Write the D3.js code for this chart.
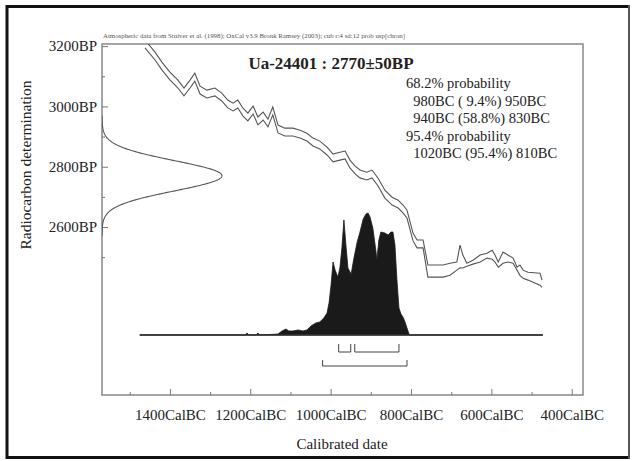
<!DOCTYPE html>
<html><head><meta charset="utf-8">
<script src="https://cdn.jsdelivr.net/npm/d3@7"></script>
<style>body{margin:0;background:#fff} svg text{font-family:"Liberation Serif","Times New Roman",serif;fill:#222}</style>
</head><body>
<svg id="c" width="632" height="461"></svg>
<script>
// ---- data ----
const curveYears = [1462,1437,1420,1400,1380,1365,1350,1338,1325,1308,1288,1271,1256,1243,1231,1218,1206,1193,1181,1168,1156,1144,1131,1114,1094,1076,1059,1044,1027,1009,994,977,964,952,939,927,910,897,882,865,847,832,820,810,795,785,770,758,720,703,686,678,671,661,646,628,611,598,591,583,571,559,546,536,529,521,509,479,474];
const curveUpper = [3220,3180,3147,3114,3087,3061,3087,3110,3067,3054,3061,3044,3021,3011,3021,2994,2978,3001,2965,2981,2958,2998,2938,2928,2928,2921,2911,2895,2885,2865,2842,2848,2852,2822,2802,2789,2782,2789,2762,2722,2699,2689,2673,2656,2580,2557,2557,2474,2474,2480,2484,2540,2507,2480,2490,2507,2513,2523,2507,2484,2517,2507,2497,2467,2474,2457,2450,2447,2424];
const curveLower = [3194,3154,3121,3088,3061,3035,3061,3084,3041,3028,3035,3018,2995,2985,2995,2968,2952,2975,2939,2955,2932,2972,2912,2902,2902,2895,2885,2869,2859,2839,2816,2822,2826,2796,2776,2763,2756,2763,2736,2696,2673,2663,2647,2630,2554,2531,2531,2434,2434,2440,2457,2465,2464,2470,2477,2484,2497,2493,2484,2467,2480,2484,2480,2457,2440,2430,2424,2407,2400];

const probYears  = [1475,1213,1208,1203,1186,1181,1176,1131,1121,1111,1104,1094,1081,1069,1059,1049,1037,1027,1017,1009,1004,999,994,989,982,977,972,967,962,957,949,942,934,927,919,912,907,902,895,887,885,880,875,865,857,850,845,840,835,830,825,820,815,810,805,803,472];
const probValues = [0,0,0.016,0,0,0.016,0,0.008,0.033,0.049,0.033,0.033,0.041,0.033,0.041,0.074,0.098,0.107,0.139,0.180,0.262,0.410,0.598,0.533,0.475,0.549,0.713,0.943,0.738,0.549,0.500,0.631,0.762,0.844,0.951,0.992,1.0,0.967,0.877,0.680,0.615,0.779,0.844,0.836,0.820,0.844,0.844,0.738,0.451,0.221,0.172,0.148,0.107,0.057,0.008,0,0];

const c14Mean = 2770, c14Sd = 50;
const range68 = [[980,950],[940,830]];
const range95 = [[1020,810]];

const xTickValues = [1400,1200,1000,800,600,400];
const xMinorValues = [1500,1300,1100,900,700,500];
const yTickValues = [3200,3000,2800,2600];
const yMinorValues = [3100,2900,2700,2500];

const title = "Ua-24401 : 2770\u00b150BP";
const header = "Atmospheric data from Stuiver et al. (1998); OxCal v3.9 Bronk Ramsey (2003); cub r:4 sd:12 prob usp[chron]";
const probText = ["68.2% probability","  980BC ( 9.4%) 950BC","  940BC (58.8%) 830BC","95.4% probability","  1020BC (95.4%) 810BC"];

// ---- drawing ----
const svg = d3.select("#c");
const L=102, R=583, T=44, B=395;
const x = d3.scaleLinear().domain([1569,372]).range([L,R]);
const y = d3.scaleLinear().domain([2043,3207]).range([B,T]);
const py = d3.scaleLinear().domain([0,1]).range([335,213]);
const gx = d3.scaleLinear().domain([0,1]).range([L,222]);

svg.append("rect").attr("x",0).attr("y",0).attr("width",632).attr("height",461).attr("fill","#fff");
// outer frame
svg.append("path").attr("d","M629,6.5H7V457.5H629")
  .attr("fill","none").attr("stroke","#111").attr("stroke-width",3);
svg.append("line").attr("x1",629).attr("x2",629).attr("y1",5).attr("y2",459)
  .attr("stroke","#555").attr("stroke-width",2);

svg.append("defs").append("clipPath").attr("id","clip")
  .append("rect").attr("x",L).attr("y",T).attr("width",R-L).attr("height",B-T);

// header
svg.append("text").attr("x",103).attr("y",38).attr("font-size",6).attr("textLength",302)
  .attr("lengthAdjust","spacingAndGlyphs").style("fill","#555").text(header);

// plot frame
svg.append("rect").attr("x",L).attr("y",T).attr("width",R-L).attr("height",B-T)
  .attr("fill","none").attr("stroke","#888").attr("stroke-width",1.5);

// axes
const axX = svg.append("g").attr("transform",`translate(0,${B})`)
  .call(d3.axisBottom(x).tickValues(xTickValues).tickSize(-6).tickPadding(14).tickFormat(d=>d+"CalBC"));
const axXm = svg.append("g").attr("transform",`translate(0,${B})`)
  .call(d3.axisBottom(x).tickValues(xMinorValues).tickSize(-3).tickFormat(""));
const axY = svg.append("g").attr("transform",`translate(${L},0)`)
  .call(d3.axisLeft(y).tickValues(yTickValues).tickSize(-6).tickPadding(5).tickFormat(d=>d+"BP"));
const axYm = svg.append("g").attr("transform",`translate(${L},0)`)
  .call(d3.axisLeft(y).tickValues(yMinorValues).tickSize(-3).tickFormat(""));
[axX,axXm,axY,axYm].forEach(g=>{
  g.select(".domain").remove();
  g.selectAll("line").attr("stroke","#777").attr("stroke-width",1);
  g.selectAll("text").attr("font-size",15).style("fill","#222")
   .attr("font-family","'Liberation Serif',serif");
});

// axis titles
svg.append("text").attr("x",342).attr("y",449).attr("text-anchor","middle").attr("font-size",15).text("Calibrated date");
svg.append("text").attr("transform","translate(31,165) rotate(-90)").attr("text-anchor","middle")
  .attr("font-size",15.5).text("Radiocarbon determination");

// calibration curve
const lineGen = d3.line().x(d=>x(d[0])).y(d=>y(d[1]));
const gC = svg.append("g").attr("clip-path","url(#clip)");
[curveUpper,curveLower].forEach(arr=>{
  gC.append("path").datum(curveYears.map((yr,i)=>[yr,arr[i]]))
    .attr("d",lineGen).attr("fill","none").attr("stroke","#555").attr("stroke-width",1.1);
});

// radiocarbon gaussian
const gauss = d3.range(c14Mean-4*c14Sd, c14Mean+4*c14Sd+1, 2)
  .map(bp=>[Math.exp(-0.5*Math.pow((bp-c14Mean)/c14Sd,2)), bp]);
gC.append("path").datum(gauss)
  .attr("d",d3.line().x(d=>gx(d[0])).y(d=>y(d[1])))
  .attr("fill","none").attr("stroke","#555").attr("stroke-width",1.1);

// calibrated distribution
const probData = probYears.map((yr,i)=>[yr,probValues[i]]);
svg.append("path").datum(probData)
  .attr("d",d3.area().x(d=>x(d[0])).y0(py(0)).y1(d=>py(d[1])))
  .attr("fill","#1a1a1a").attr("stroke","#1a1a1a").attr("stroke-width",0.8);
svg.append("line").attr("x1",x(probYears[0])).attr("x2",x(probYears[probYears.length-1]))
  .attr("y1",py(0)).attr("y2",py(0)).attr("stroke","#333").attr("stroke-width",1.5);

// range brackets
function bracket(ranges, yb, h){
  ranges.forEach(r=>{
    svg.append("path")
      .attr("d",`M${x(r[0])},${yb-h}V${yb}H${x(r[1])}V${yb-h}`)
      .attr("fill","none").attr("stroke","#444").attr("stroke-width",1);
  });
}
bracket(range68, 352, 8);
bracket(range95, 366, 6);

// title
svg.append("text").attr("x",331).attr("y",69).attr("text-anchor","middle").attr("font-size",17)
  .attr("font-weight","bold").text(title);

// probability text
svg.append("g").selectAll("text").data(probText).join("text")
  .attr("x",406).attr("y",(d,i)=>88+i*17.5).attr("font-size",14.5)
  .attr("xml:space","preserve").style("white-space","pre").text(d=>d);
</script>
</body></html>
